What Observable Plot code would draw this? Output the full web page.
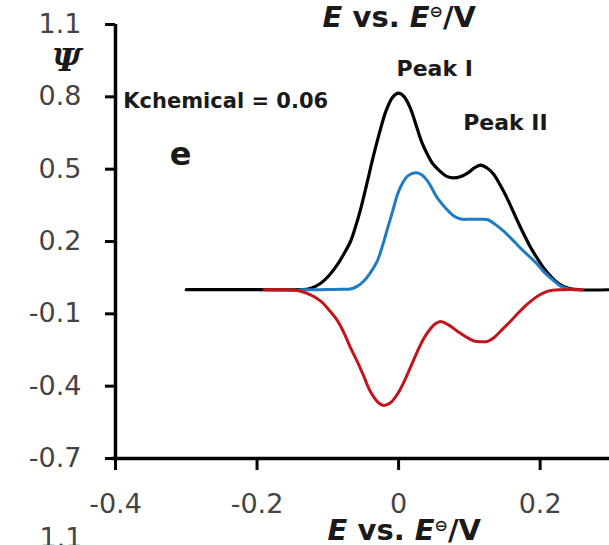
<!DOCTYPE html>
<html>
<head>
<meta charset="utf-8">
<script src="https://cdn.jsdelivr.net/npm/d3@7"></script>
<script src="https://cdn.jsdelivr.net/npm/@observablehq/plot@0.6"></script>
<style>
  html, body { margin: 0; padding: 0; background: white; }
  #chart svg { display: block; }
</style>
</head>
<body>
<div id="chart"></div>
<script>
// Forward scan (black)
const E_black = [-0.30, -0.20, -0.14, -0.125, -0.11, -0.098, -0.086, -0.077, -0.068, -0.061, -0.054, -0.044, -0.036, -0.028, -0.018, -0.008, 0, 0.008, 0.017, 0.025, 0.033, 0.041, 0.049, 0.059, 0.068, 0.078, 0.088, 0.098, 0.107, 0.116, 0.125, 0.134, 0.148, 0.158, 0.168, 0.177, 0.187, 0.196, 0.205, 0.215, 0.225, 0.239, 0.255, 0.30];
const psi_black = [0, 0, 0, 0.005, 0.027, 0.06, 0.106, 0.15, 0.20, 0.26, 0.33, 0.45, 0.55, 0.64, 0.74, 0.80, 0.815, 0.80, 0.75, 0.68, 0.61, 0.56, 0.52, 0.49, 0.47, 0.464, 0.47, 0.485, 0.505, 0.517, 0.505, 0.48, 0.41, 0.35, 0.285, 0.23, 0.173, 0.13, 0.09, 0.055, 0.028, 0.007, 0, 0];

// Forward scan component (blue)
const E_blue = [-0.14, -0.12, -0.10, -0.08, -0.068, -0.058, -0.049, -0.040, -0.030, -0.023, -0.016, -0.008, -0.001, 0.006, 0.013, 0.024, 0.032, 0.041, 0.055, 0.066, 0.078, 0.088, 0.10, 0.115, 0.126, 0.137, 0.148, 0.160, 0.172, 0.184, 0.196, 0.205, 0.215, 0.229, 0.24, 0.25];
const psi_blue = [0, 0, 0.001, 0.002, 0.003, 0.015, 0.036, 0.07, 0.12, 0.18, 0.25, 0.33, 0.40, 0.445, 0.472, 0.485, 0.478, 0.45, 0.38, 0.34, 0.306, 0.293, 0.292, 0.292, 0.29, 0.27, 0.244, 0.21, 0.173, 0.14, 0.106, 0.075, 0.048, 0.015, 0.003, 0];

// Reverse scan (red)
const E_red = [-0.19, -0.16, -0.14, -0.125, -0.110, -0.098, -0.086, -0.077, -0.068, -0.058, -0.049, -0.042, -0.035, -0.028, -0.021, -0.012, -0.001, 0.008, 0.017, 0.026, 0.035, 0.045, 0.052, 0.059, 0.07, 0.083, 0.095, 0.106, 0.116, 0.126, 0.135, 0.144, 0.156, 0.168, 0.178, 0.187, 0.199, 0.211, 0.229, 0.26];
const psi_red = [0, 0, -0.005, -0.02, -0.047, -0.085, -0.13, -0.18, -0.24, -0.30, -0.36, -0.41, -0.445, -0.47, -0.48, -0.47, -0.43, -0.38, -0.32, -0.26, -0.205, -0.162, -0.141, -0.132, -0.145, -0.172, -0.195, -0.212, -0.216, -0.214, -0.198, -0.172, -0.137, -0.10, -0.07, -0.047, -0.022, -0.006, 0, 0];

const xTicks = [-0.4, -0.2, 0, 0.2];
const yTicks = [-0.7, -0.4, -0.1, 0.2, 0.5, 0.8, 1.1];

const annotations = [
  {E: -0.389, psi: 0.78, text: "Kchemical = 0.06", size: 21, anchor: "start"},
  {E: -0.308, psi: 0.56, text: "e", size: 32, anchor: "middle"},
  {E: 0.051, psi: 0.917, text: "Peak I", size: 22, anchor: "middle"},
  {E: 0.151, psi: 0.692, text: "Peak II", size: 22, anchor: "middle"}
];
const titleText = "E vs. E⊖/V";
const titles = [
  {E: -0.1074, psi: 1.13},
  {E: -0.1003, psi: -1.0}
];

const toRows = (xs, ys) => xs.map((E, i) => ({E, psi: ys[i]}));
const black = toRows(E_black, psi_black);
const blue = toRows(E_blue, psi_blue);
const red = toRows(E_red, psi_red);

const textMarks = annotations.map(a => Plot.text([a], {
  x: "E", y: "psi", text: "text", fontSize: a.size, textAnchor: a.anchor,
  fontWeight: "bold", fontFamily: "DejaVu Sans", fill: "#1a1a1a", lineAnchor: "middle"
}));

const chart = Plot.plot({
  width: 609,
  height: 545,
  marginLeft: 115,
  marginRight: 0,
  marginTop: 24,
  marginBottom: 87,
  x: {domain: [-0.4, 0.298]},
  y: {domain: [-0.7, 1.1]},
  style: {fontFamily: "DejaVu Sans", background: "white", color: "#444"},
  marks: [
    Plot.axisY({ticks: yTicks, tickSize: 10, tickPadding: 24, fontSize: 27, fill: "#444", stroke: "black", strokeWidth: 3, tickFormat: d => d.toFixed(1), label: null}),
    Plot.axisX({ticks: xTicks, tickSize: 12, tickPadding: 23, fontSize: 27, fill: "#444", stroke: "black", strokeWidth: 3, tickFormat: d => d === 0 ? "0" : d.toFixed(1), label: null}),
    Plot.ruleX([-0.4], {y1: -0.7, y2: 1.1, stroke: "black", strokeWidth: 3.5}),
    Plot.ruleY([-0.7], {x1: -0.405, x2: 0.298, stroke: "black", strokeWidth: 3.5}),
    Plot.line(black, {x: "E", y: "psi", stroke: "black", strokeWidth: 3.2, curve: "catmull-rom"}),
    Plot.line(blue, {x: "E", y: "psi", stroke: "#1f7bc3", strokeWidth: 3, curve: "catmull-rom"}),
    Plot.line(red, {x: "E", y: "psi", stroke: "#c3141c", strokeWidth: 3, curve: "catmull-rom"}),
    ...textMarks,
    Plot.text([{E: -0.469, psi: 0.95, t: "Ψ"}], {x: "E", y: "psi", text: "t", fontSize: 32, fontStyle: "italic", fontWeight: "bold", fontFamily: "DejaVu Serif", fill: "#1a1a1a"}),
    Plot.text([{E: -0.4466, psi: -1.03, t: "1.1"}], {x: "E", y: "psi", text: "t", fontSize: 27, textAnchor: "end", fill: "#444"}),
    Plot.text(titles, {x: "E", y: "psi", text: () => titleText, fontSize: 29, fontWeight: "bold", textAnchor: "start", fill: "#1a1a1a"})
  ]
});

document.getElementById("chart").appendChild(chart);

// Style the axis titles: italic E and superscript standard-state symbol
d3.select(chart).selectAll("text").each(function() {
  const el = d3.select(this);
  if (el.text() === titleText) {
    el.text(null);
    el.append("tspan").attr("font-style", "italic").text("E");
    el.append("tspan").text(" vs. ");
    el.append("tspan").attr("font-style", "italic").text("E");
    el.append("tspan").attr("font-size", "0.55em").attr("dy", "-0.6em").text("⊖");
    el.append("tspan").attr("dy", "0.33em").text("/V");
  }
});
</script>
</body>
</html>
